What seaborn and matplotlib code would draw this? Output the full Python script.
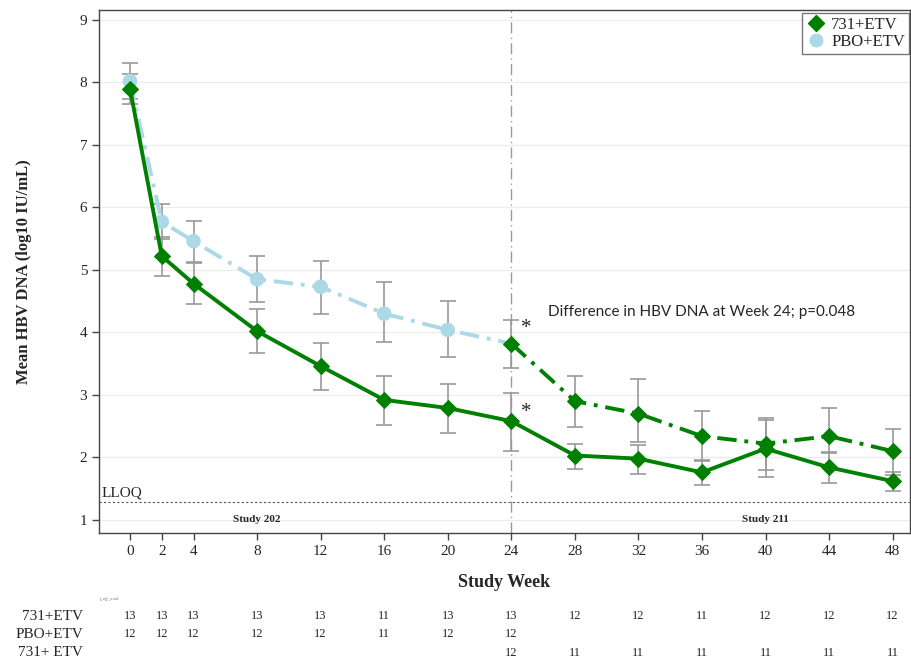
import numpy as np
import pandas as pd
import seaborn as sns
import matplotlib.pyplot as plt
import matplotlib.transforms as mtransforms
from matplotlib.lines import Line2D

# Study 202 weeks (0-24) and Study 211 weeks (24-48)
weeks_202 = [0, 2, 4, 8, 12, 16, 20, 24]
weeks_211 = [24, 28, 32, 36, 40, 44, 48]

# 731+ETV (solid) whole course
weeks_731 = [0, 2, 4, 8, 12, 16, 20, 24, 28, 32, 36, 40, 44, 48]
mean_731 = [7.90, 5.22, 4.78, 4.02, 3.46, 2.92, 2.79, 2.58, 2.03, 1.98, 1.76, 2.14, 1.84, 1.62]
lo_731 = [7.65, 4.91, 4.45, 3.67, 3.08, 2.52, 2.39, 2.11, 1.82, 1.74, 1.56, 1.69, 1.59, 1.46]
hi_731 = [8.14, 5.53, 5.11, 4.37, 3.83, 3.30, 3.18, 3.03, 2.22, 2.20, 1.96, 2.60, 2.08, 1.76]

# PBO+ETV (light blue) during Study 202
mean_pbo = [8.02, 5.77, 5.46, 4.85, 4.73, 4.30, 4.04]
lo_pbo = [7.73, 5.49, 5.13, 4.48, 4.30, 3.85, 3.60]
hi_pbo = [8.31, 6.05, 5.78, 5.22, 5.15, 4.80, 4.50]

# PBO group rolled over to 731+ETV in Study 211 (dashed green)
mean_roll = [3.82, 2.90, 2.70, 2.34, 2.22, 2.34, 2.10]
lo_roll = [3.43, 2.48, 2.24, 1.95, 1.80, 2.07, 1.72]
hi_roll = [4.20, 3.31, 3.26, 2.74, 2.63, 2.79, 2.46]

# numbers evaluable
n_731 = [13, 13, 13, 13, 13, 11, 13, 13, 12, 12, 11, 12, 12, 12]
n_pbo = [12, 12, 12, 12, 12, 11, 12, 12]
n_roll = [12, 11, 11, 11, 11, 11, 11]

xticks = [0, 2, 4, 8, 12, 16, 20, 24, 28, 32, 36, 40, 44, 48]
lloq = 1.28

green = '#008000'
lblue = '#add8e6'
err_col = '#9a9a9a'

sns.set_style("white")
plt.rcParams['font.family'] = ['Liberation Serif', 'DejaVu Serif']

fig = plt.figure(figsize=(9.11, 6.6), dpi=100)
ax = fig.add_axes([0.1087, 0.1924, 0.8903, 0.7926])

# PBO line runs up to week 24 where the rollover begins
pbo_df = pd.DataFrame({'week': weeks_202, 'mean': mean_pbo + [mean_roll[0]]})
roll_df = pd.DataFrame({'week': weeks_211, 'mean': mean_roll})
act_df = pd.DataFrame({'week': weeks_731, 'mean': mean_731})

ekw = dict(fmt='none', ecolor=err_col, elinewidth=1.2, capsize=6, capthick=1.2, zorder=2)
ax.errorbar(weeks_202[:-1], mean_pbo,
            yerr=[np.subtract(mean_pbo, lo_pbo), np.subtract(hi_pbo, mean_pbo)], **ekw)
ax.errorbar(weeks_211, mean_roll,
            yerr=[np.subtract(mean_roll, lo_roll), np.subtract(hi_roll, mean_roll)], **ekw)
ax.errorbar(weeks_731, mean_731,
            yerr=[np.subtract(mean_731, lo_731), np.subtract(hi_731, mean_731)], **ekw)

dashdot = (0, (5, 2, 1, 2))
sns.lineplot(data=pbo_df, x='week', y='mean', ax=ax, color=lblue, linewidth=2.8,
             linestyle=dashdot, zorder=3)
ax.scatter(weeks_202[:-1], mean_pbo, s=110, color=lblue, marker='o', zorder=4, edgecolors='none')
sns.lineplot(data=roll_df, x='week', y='mean', ax=ax, color=green, linewidth=2.8,
             linestyle=dashdot, marker='D', markersize=8, markeredgecolor=green, zorder=5)
sns.lineplot(data=act_df, x='week', y='mean', ax=ax, color=green, linewidth=2.8,
             marker='D', markersize=8, markeredgecolor=green, zorder=5)

# reference lines
ax.axhline(lloq, color='#555555', linestyle=(0, (2, 2)), linewidth=0.8, zorder=1)
ax.axvline(24, color='#999999', linestyle=(0, (8, 3, 1, 3)), linewidth=1.0, zorder=1)
ax.text(-1.8, lloq + 0.05, 'LLOQ', fontsize=11, ha='left', va='bottom')
ax.text(8, 1.0, 'Study 202', fontsize=8, fontweight='bold', ha='center', va='center')
ax.text(40, 1.0, 'Study 211', fontsize=8, fontweight='bold', ha='center', va='center')

ax.text(24.95, 4.07, '*', fontsize=15, ha='center', va='center')
ax.text(24.95, 2.72, '*', fontsize=15, ha='center', va='center')
ax.text(26.3, 4.33, 'Difference in HBV DNA at Week 24; p=0.048', fontsize=11,
        family=['Lato', 'DejaVu Sans'], ha='left', va='center')

ax.set_xlim(-1.95, 49.1)
ax.set_ylim(0.79, 9.16)
ax.set_xticks(xticks)
ax.set_xticklabels([str(w) for w in xticks], fontsize=11)
ax.set_yticks(range(1, 10))
ax.set_yticklabels([str(v) for v in range(1, 10)], fontsize=11)
ax.tick_params(axis='both', direction='out', length=5, width=1, color='#444444', bottom=True, left=True)
ax.yaxis.grid(True, color='#ececec', linewidth=0.9)
ax.set_axisbelow(True)
for s in ax.spines.values():
    s.set_color('#444444')
    s.set_linewidth(1.0)

ax.set_xlabel('Study Week', fontsize=13, fontweight='bold', labelpad=12)
ax.set_ylabel('Mean HBV DNA (log10 IU/mL)', fontsize=12, fontweight='bold', labelpad=34)

handles = [Line2D([], [], linestyle='none', marker='D', color=green, markersize=8),
           Line2D([], [], linestyle='none', marker='o', color=lblue, markersize=9)]
leg = ax.legend(handles, ['731+ETV', 'PBO+ETV'], loc='upper right', fontsize=12,
                frameon=True, fancybox=False, borderpad=0.25, handletextpad=0.3,
                labelspacing=0.05, handlelength=1.2, borderaxespad=0,
                bbox_to_anchor=(0.999, 0.995))
leg.get_frame().set_edgecolor('#555555')
leg.get_frame().set_linewidth(1.0)

# at-risk table under the axis
trans = mtransforms.blended_transform_factory(ax.transData, fig.transFigure)
row_y = [1 - 616 / 660, 1 - 634 / 660, 1 - 653 / 660]
fig.text(0.091, row_y[0], '731+ETV', fontsize=11, ha='right', va='center')
fig.text(0.091, row_y[1], 'PBO+ETV', fontsize=11, ha='right', va='center')
fig.text(0.091, row_y[2], '731+ ETV', fontsize=11, ha='right', va='center')
fig.text(0.110, 1 - 599 / 660, 'f_eff_eval', fontsize=3.5, style='italic', color='#666666',
         ha='left', va='center')
for w, n in zip(weeks_731, n_731):
    fig.text(w, row_y[0], str(n), transform=trans, fontsize=9, ha='center', va='center')
for w, n in zip(weeks_202, n_pbo):
    fig.text(w, row_y[1], str(n), transform=trans, fontsize=9, ha='center', va='center')
for w, n in zip(weeks_211, n_roll):
    fig.text(w, row_y[2], str(n), transform=trans, fontsize=9, ha='center', va='center')

fig.savefig('out.png', dpi=100)
